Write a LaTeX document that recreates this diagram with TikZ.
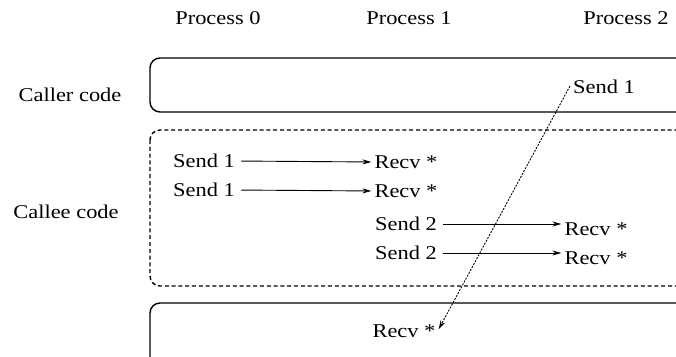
\documentclass[tikz,border=0pt]{standalone}
\usepackage{fontspec}
\setmainfont{Liberation Serif}
\newfontfamily\labelfont[FakeStretch=1.15]{Liberation Serif}
\usetikzlibrary{arrows.meta}
\begin{document}
\begin{tikzpicture}[x=1pt,y=-1pt,
  lbl/.style={font=\labelfont\fontsize{19.5}{21}\selectfont, inner sep=0pt, anchor=center},
  boxline/.style={draw, line width=1.4pt, rounded corners=10pt},
  dotbox/.style={draw, line width=1.4pt, dash pattern=on 4pt off 2.8pt, rounded corners=10pt},
  msg/.style={line width=0.9pt, -{Stealth[length=9pt,width=5pt]}, shorten <=6pt, shorten >=3pt},
  cross/.style={line width=0.9pt, dash pattern=on 2pt off 1.3pt, -{Stealth[length=9pt,width=5pt]}}
]
\useasboundingbox (0,0) rectangle (676,356);
\begin{scope}
\clip (0,0) rectangle (676,356);
% the three code regions
\draw[boxline] (150,58) rectangle (688,112);
\draw[dotbox] (150,130) rectangle (688,286);
\draw[boxline] (150,303) rectangle (688,380);
\end{scope}

% column headings
\node[lbl] (p0) at (218,18) {Process 0};
\node[lbl] (p1) at (409,18) {Process 1};
\node[lbl] (p2) at (626,18) {Process 2};

% row headings
\node[lbl] (caller) at (70,95) {Caller code};
\node[lbl] (callee) at (66,212) {Callee code};

% callee messages
\node[lbl] (sa) at (204,161) {Send 1};
\node[lbl] (ra) at (406,162) {Recv *};
\node[lbl] (sb) at (204,190) {Send 1};
\node[lbl] (rb) at (406,191) {Recv *};
\node[lbl] (sc) at (406,224) {Send 2};
\node[lbl] (rc) at (596,229) {Recv *};
\node[lbl] (sd) at (406,253) {Send 2};
\node[lbl] (rd) at (596,258) {Recv *};

\draw[msg] (sa.east) -- (ra.west);
\draw[msg] (sb.east) -- (rb.west);
\draw[msg] (sc.east) -- (sc.east -| rc.west);
\draw[msg] (sd.east) -- (sd.east -| rd.west);

% caller send and the receive that catches it
\node[lbl] (cs) at (604,87) {Send 1};
\node[lbl] (cr) at (404,331) {Recv *};
\draw[cross] ([xshift=-3pt,yshift=1pt]cs.west) -- ([xshift=3pt,yshift=-5pt]cr.north east);
\end{tikzpicture}
\end{document}
